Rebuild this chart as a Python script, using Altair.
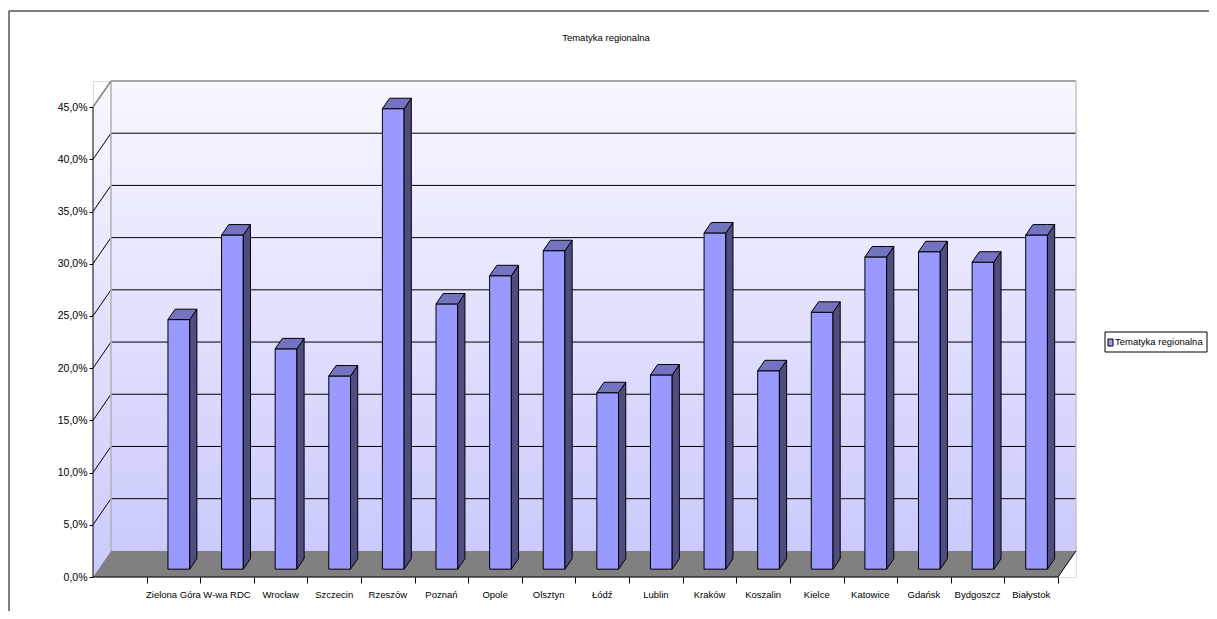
import altair as alt
import pandas as pd

# ---- data ----
cities = ["Zielona Góra", "W-wa RDC", "Wrocław", "Szczecin", "Rzeszów", "Poznań",
          "Opole", "Olsztyn", "Łódź", "Lublin", "Kraków", "Koszalin", "Kielce",
          "Katowice", "Gdańsk", "Bydgoszcz", "Białystok"]
values = [23.9, 32.0, 21.1, 18.5, 44.1, 25.4, 28.1, 30.5, 16.9, 18.6, 32.2,
          19.0, 24.6, 29.9, 30.4, 29.4, 32.0]
y_ticks = [0, 5, 10, 15, 20, 25, 30, 35, 40, 45]
series_name = "Tematyka regionalna"
chart_title = "Tematyka regionalna"

# ---- 3D geometry (in data units) ----
N_SLOTS = 18          # first slot is empty, as in the reference
DX = 0.3358           # depth offset in slot units
DY = 2.5              # depth offset in percent units
YMAX = 45
HW = 0.2025           # half width of bar front face (slot units)
D0 = 0.3              # bar front depth fraction
DB = 0.4              # bar depth fraction

W, H = 983, 496
TOTAL_W, TOTAL_H = 1201, 603
PAD_L, PAD_T = 85, 73
FONT = "Liberation Sans Narrow, Arial Narrow, Liberation Sans, Arial"

xs = alt.Scale(domain=[0, N_SLOTS + DX], nice=False, zero=False)
ys = alt.Scale(domain=[0, YMAX + DY], nice=False, zero=False)
x_axis = alt.Axis(values=list(range(1, N_SLOTS + 1)), labels=False, tickSize=6,
                  domain=False, grid=False, title=None, tickColor="black")
y_axis = alt.Axis(values=y_ticks, labelExpr="replace(format(datum.value,'.1f'),'.',',')+'%'",
                  tickSize=4, domain=False, grid=False, title=None, tickColor="black",
                  labelFont=FONT, labelFontSize=10.5, labelColor="black", labelPadding=2)


def X(f):
    return alt.X(f, type="quantitative", scale=xs, axis=x_axis)


def Y(f):
    return alt.Y(f, type="quantitative", scale=ys, axis=y_axis)


wall_grad = alt.Gradient(gradient="linear",
                         stops=[alt.GradientStop(color="#F8F8FF", offset=0),
                                alt.GradientStop(color="#CACAFD", offset=1)],
                         x1=0, x2=0, y1=0, y2=1)

# left wall
left_wall = pd.DataFrame({"x": [0, DX], "lo": [0, DY], "hi": [YMAX, YMAX + DY]})
l_left = alt.Chart(left_wall).mark_area(fill=wall_grad, stroke=None).encode(
    x=X("x"), y=Y("lo"), y2="hi")

# back wall
back_wall = pd.DataFrame({"x": [DX], "x2": [N_SLOTS + DX], "y": [DY], "y2": [YMAX + DY]})
l_back = alt.Chart(back_wall).mark_rect(fill=wall_grad).encode(
    x=X("x"), x2="x2", y=Y("y"), y2="y2")

# gridlines
grid_vals = [v for v in y_ticks if 0 < v < YMAX]
g_back = pd.DataFrame({"x": DX, "x2": N_SLOTS + DX, "y": [v + DY for v in grid_vals]})
l_gback = alt.Chart(g_back).mark_rule(color="black", strokeWidth=1).encode(
    x=X("x"), x2="x2", y=Y("y"))
g_side = pd.DataFrame({"x": 0, "x2": DX, "y": [float(v) for v in y_ticks[1:]],
                       "y2": [v + DY for v in y_ticks[1:]]})
l_gside = alt.Chart(g_side).mark_rule(color="black", strokeWidth=1).encode(
    x=X("x"), x2="x2", y=Y("y"), y2="y2")

# wall edges
edges = pd.DataFrame({
    "x": [DX, DX, N_SLOTS + DX, 0],
    "x2": [N_SLOTS + DX, DX, N_SLOTS + DX, DX],
    "y": [YMAX + DY, DY, DY, YMAX],
    "y2": [YMAX + DY, YMAX + DY, YMAX + DY, YMAX + DY],
    "c": ["#8a8a8a", "#b0b0b0", "#c8c8c8", "#8a8a8a"],
})
l_edges = alt.Chart(edges).mark_rule(strokeWidth=1.5).encode(
    x=X("x"), x2="x2", y=Y("y"), y2="y2", color=alt.Color("c:N", scale=None))

# floor
floor = pd.DataFrame({"x": [0, DX, N_SLOTS, N_SLOTS + DX],
                      "lo": [0, 0, 0, DY], "hi": [0, DY, DY, DY]})
l_floor = alt.Chart(floor).mark_area(fill="#808080", stroke=None).encode(
    x=X("x"), y=Y("lo"), y2="hi")
floor_edge = pd.DataFrame({"x": [N_SLOTS], "x2": [N_SLOTS + DX], "y": [0.0], "y2": [DY]})
l_fedge = alt.Chart(floor_edge).mark_rule(color="black").encode(
    x=X("x"), x2="x2", y=Y("y"), y2="y2")

# front axis lines
axes_df = pd.DataFrame({"x": [0.0, 0.0], "x2": [0.0, float(N_SLOTS)],
                        "y": [0.0, 0.0], "y2": [float(YMAX), 0.0]})
l_axes = alt.Chart(axes_df).mark_rule(color="black", strokeWidth=1).encode(
    x=X("x"), x2="x2", y=Y("y"), y2="y2")

# bars
front_rows, side_rows, top_rows = [], [], []
for k, (name, v) in enumerate(zip(cities, values)):
    c = k + 1.5
    xl = c - HW + D0 * DX
    xr = c + HW + D0 * DX
    b = D0 * DY
    t = v + D0 * DY
    front_rows.append({"city": name, "x": xl, "x2": xr, "y": b, "y2": t})
    side_rows += [
        {"city": name, "x": xr, "lo": b, "hi": t},
        {"city": name, "x": xr + DB * DX, "lo": b + DB * DY, "hi": t + DB * DY},
    ]
    top_rows += [
        {"city": name, "x": xl, "lo": t, "hi": t},
        {"city": name, "x": xl + DB * DX, "lo": t, "hi": t + DB * DY},
        {"city": name, "x": xr, "lo": t, "hi": t + DB * DY},
        {"city": name, "x": xr + DB * DX, "lo": t + DB * DY, "hi": t + DB * DY},
    ]

l_front = alt.Chart(pd.DataFrame(front_rows)).mark_rect(
    fill="#9999FF", stroke="black", strokeWidth=1).encode(
    x=X("x"), x2="x2", y=Y("y"), y2="y2")
l_side = alt.Chart(pd.DataFrame(side_rows)).mark_area(
    fill="#4D4D80", stroke="black", strokeWidth=1).encode(
    x=X("x"), y=Y("lo"), y2="hi", detail="city:N")
l_top = alt.Chart(pd.DataFrame(top_rows)).mark_area(
    fill="#7373BF", stroke="black", strokeWidth=1).encode(
    x=X("x"), y=Y("lo"), y2="hi", detail="city:N")

# category labels
lab = pd.DataFrame({"city": cities, "x": [k + 1.5 for k in range(len(cities))]})
l_lab = alt.Chart(lab).mark_text(font=FONT, fontSize=9.5, color="black",
                                 baseline="middle", align="center").encode(
    x=X("x"), y=alt.value(H + 18), text="city:N")

# title
l_title = alt.Chart(pd.DataFrame({"t": [chart_title]})).mark_text(
    font=FONT, fontSize=9.5, color="black", baseline="middle", align="center").encode(
    x=alt.value(513), y=alt.value(-43), text="t:N")

# legend box at the right
leg = pd.DataFrame({"t": [series_name]})
l_legbox = alt.Chart(leg).mark_rect(fill="white", stroke="black", strokeWidth=1).encode(
    x=alt.value(1012), x2=alt.value(1114), y=alt.value(251), y2=alt.value(271))
l_legsym = alt.Chart(leg).mark_rect(fill="#9999FF", stroke="black", strokeWidth=1).encode(
    x=alt.value(1015), x2=alt.value(1020), y=alt.value(258), y2=alt.value(265))
l_legtxt = alt.Chart(leg).mark_text(font=FONT, fontSize=9.5, color="black",
                                    baseline="middle", align="left").encode(
    x=alt.value(1022), y=alt.value(261), text="t:N")

# outer border (top and left visible)
border = pd.DataFrame({"k": ["top", "left"]})
l_btop = alt.Chart(border.iloc[[0]]).mark_rule(color="black", strokeWidth=1).encode(
    x=alt.value(-84), x2=alt.value(1200), y=alt.value(-70))
l_bleft = alt.Chart(border.iloc[[1]]).mark_rule(color="black", strokeWidth=1).encode(
    x=alt.value(-84), y=alt.value(-70), y2=alt.value(600))

chart = alt.layer(
    l_left, l_back, l_gback, l_gside, l_edges, l_floor, l_fedge, l_axes,
    l_front, l_side, l_top, l_lab, l_title, l_legbox, l_legsym, l_legtxt,
    l_btop, l_bleft
).properties(
    width=W, height=H,
    padding={"left": PAD_L, "top": PAD_T, "right": TOTAL_W - PAD_L - W,
             "bottom": TOTAL_H - PAD_T - H},
    autosize=alt.AutoSizeParams(type="none"),
).configure_view(stroke=None).configure(background="white")

chart.save("out.html", embed_options={"renderer": "svg", "actions": False})
